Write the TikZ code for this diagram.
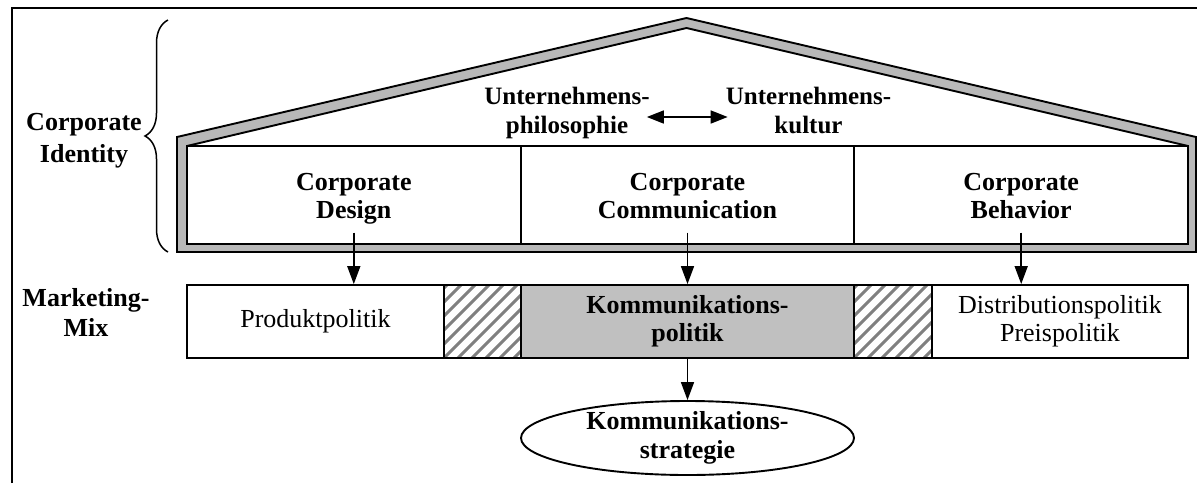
\documentclass[tikz,border=0pt]{standalone}
\usepackage{fontspec}
\setmainfont{Liberation Serif}
\usetikzlibrary{arrows.meta,decorations.pathreplacing,shapes.geometric}
\definecolor{bandgray}{HTML}{B8B8B8}
\definecolor{boxgray}{HTML}{C0C0C0}
\definecolor{hatchgray}{HTML}{808080}
\begin{document}
\begin{tikzpicture}[x=1pt,y=-1pt,
  rule/.style={line width=1.9pt},
  boldtext/.style={font=\fontsize{26}{28}\selectfont\bfseries, align=center, inner sep=0pt},
  rooftext/.style={font=\fontsize{25}{29}\selectfont\bfseries, align=center, inner sep=0pt},
  plaintext/.style={font=\fontsize{26}{28}\selectfont, align=center, inner sep=0pt},
  cell/.style={rule, draw, rectangle, inner sep=0pt, minimum height=98pt, minimum width=333.7pt},
  mixbox/.style={rule, draw, rectangle, inner sep=0pt, minimum height=73pt},
  hatched/.style={mixbox, path picture={
      \foreach \k in {-7,...,7}
        \draw[hatchgray, line width=3pt]
          ([xshift=\k*14pt]path picture bounding box.south west) -- ++(110pt,110pt);}},
  flow/.style={line width=1.6pt, -{Triangle[length=18pt,width=13pt]}},
  twoway/.style={line width=1.6pt, {Triangle[length=17pt,width=13pt]}-{Triangle[length=17pt,width=13pt]}},
]
\useasboundingbox (0,0) rectangle (1197,483);

% frame rules along the top and the left side
\draw[line width=2.2pt] (12,483) -- (12,8) -- (1197,8);

% brace grouping the house as Corporate Identity
\draw[line width=1.5pt, decorate, decoration={brace, amplitude=23pt}] (168,252) -- (168,20);
\node[boldtext, font=\fontsize{26}{32}\selectfont\bfseries] (ci) at (84,139.6)
  {\strut Corporate\\\strut Identity};

% house: grey band between outer and inner outline
\draw[rule, fill=bandgray] (177,252) -- (1196,252) -- (1196,137) -- (686.5,18) -- (177,137) -- cycle;
\draw[rule, fill=white] (187,244) -- (1188,244) -- (1188,146) -- (686.5,28) -- (187,146) -- cycle;

% the three pillars
\node[cell] (cdcell) at (353.8,195) {};
\node[cell] (cccell) at (687.5,195) {};
\node[cell] (cbcell) at (1021.2,195) {};
\node[boldtext] (cd) at (cdcell.center) [yshift=-3.4pt] {\strut Corporate\\\strut Design};
\node[boldtext] (cc) at (cccell.center) [yshift=-3.4pt] {\strut Corporate\\\strut Communication};
\node[boldtext] (cb) at (cbcell.center) [yshift=-3.4pt] {\strut Corporate\\\strut Behavior};

% roof contents
\node[rooftext] (phil) at (567,112.7) {\strut Unternehmens-\\\strut philosophie};
\node[rooftext] (kult) at (808.5,112.7) {\strut Unternehmens-\\\strut kultur};
\draw[twoway, shorten <=-3pt, shorten >=-2pt] ([yshift=-4.3pt]phil.east) -- ([yshift=-4.3pt]kult.west);

% marketing mix row
\node[boldtext, font=\fontsize{26}{30}\selectfont\bfseries] (mm) at (86,315) {\strut Marketing-\\\strut Mix};
\node[mixbox, plaintext, minimum width=257pt] (prod) at (315.5,321.5) {\strut Produktpolitik};
\node[hatched, minimum width=77pt] (h1) at (482.5,321.5) {};
\node[mixbox, boldtext, fill=boxgray, minimum width=333pt] (komm) at (687.5,321.5)
  {\strut Kommunikations-\\\strut politik};
\node[hatched, minimum width=78pt] (h2) at (893,321.5) {};
\node[mixbox, plaintext, minimum width=256pt] (dist) at (1060,321.5)
  {\strut Distributionspolitik\\\strut Preispolitik};

% communication strategy
\node[ellipse, draw, rule, inner sep=0pt, minimum width=333pt, minimum height=74pt] (strat) at (687.5,438) {};
\node[boldtext, font=\fontsize{26}{29}\selectfont\bfseries] (stext) at (strat.center)
  {\strut Kommunikations-\\\strut strategie};

% connectors
\draw[flow] ([yshift=-6pt]cd.south) -- (cd.south |- prod.north);
\draw[flow] ([yshift=-6pt]cc.south) -- (cc.south |- komm.north);
\draw[flow] ([yshift=-6pt]cb.south) -- (cb.south |- dist.north);
\draw[flow] (komm.south) -- (strat.north);
\end{tikzpicture}
\end{document}
